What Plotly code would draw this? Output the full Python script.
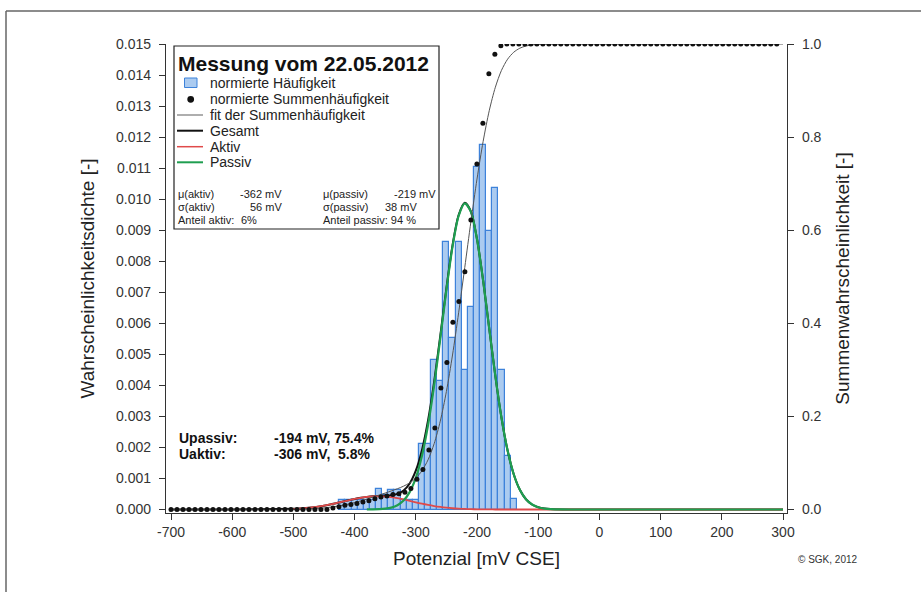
import plotly.graph_objects as go

# ---------------- data ----------------
hist_center = [-420, -410, -400, -390, -380, -370, -360, -350, -340, -330, -320, -310, -300,
               -290, -280, -270, -260, -250, -240, -230, -220, -210, -200, -190, -180, -170,
               -160, -150, -140]
hist_value = [0.00032, 0.00032, 0.00032, 0.00032, 0.00032, 0.00032, 0.00067, 0.00048, 0.00064,
              0.00064, 0.00032, 0.00032, 0.00032, 0.0021, 0.0021, 0.00483, 0.00413, 0.00862,
              0.00553, 0.00862, 0.00451, 0.00654, 0.01105, 0.01175, 0.00896, 0.01035, 0.00451,
              0.00172, 0.00034]

cum_x = [-700.0, -690.2, -680.4, -670.6, -660.8, -651.0, -641.2, -631.4, -621.6, -611.8,
         -602.0, -592.2, -582.4, -572.6, -562.8, -553.0, -543.2, -533.4, -523.6, -513.8,
         -504.0, -494.2, -484.4, -474.6, -464.8, -455.0, -445.2, -435.4, -425.6, -415.8,
         -406.0, -396.2, -386.4, -376.6, -366.8, -357.0, -347.2, -337.4, -327.6, -317.8,
         -308.0, -298.2, -288.4, -278.6, -268.8, -259.0, -249.2, -239.4, -229.6, -219.8,
         -210.0, -200.2, -190.4, -180.6, -170.8, -161.0, -151.2, -141.4, -131.6, -121.8,
         -112.0, -102.2, -92.4, -82.6, -72.8, -63.0, -53.2, -43.4, -33.6, -23.8,
         -14.0, -4.2, 5.6, 15.4, 25.2, 35.0, 44.8, 54.6, 64.4, 74.2,
         84.0, 93.8, 103.6, 113.4, 123.2, 133.0, 142.8, 152.6, 162.4, 172.2,
         182.0, 191.8, 201.6, 211.4, 221.2, 231.0, 240.8, 250.6, 260.4, 270.2,
         280.0, 289.8]
cum_value = [0.0, 0.0, 0.0, 0.0, 0.0, 0.0, 0.0, 0.0, 0.0, 0.0,
             0.0, 0.0, 0.0, 0.0, 0.0, 0.0, 0.0, 0.0, 0.0, 0.0,
             0.0, 0.0, 0.0, 0.0, 0.0, 0.0, 0.0, 0.003, 0.006, 0.009,
             0.011, 0.013, 0.016, 0.019, 0.023, 0.027, 0.029, 0.032, 0.034, 0.037,
             0.045, 0.065, 0.086, 0.128, 0.175, 0.261, 0.316, 0.402, 0.447, 0.511,
             0.622, 0.742, 0.830, 0.936, 0.978, 0.996, 1.0, 1.0, 1.0, 1.0,
             1.0, 1.0, 1.0, 1.0, 1.0, 1.0, 1.0, 1.0, 1.0, 1.0,
             1.0, 1.0, 1.0, 1.0, 1.0, 1.0, 1.0, 1.0, 1.0, 1.0,
             1.0, 1.0, 1.0, 1.0, 1.0, 1.0, 1.0, 1.0, 1.0, 1.0,
             1.0, 1.0, 1.0, 1.0, 1.0, 1.0, 1.0, 1.0, 1.0, 1.0,
             1.0, 1.0]

curve_x = [-700, -600, -500, -490, -480, -470, -460, -450, -440, -430, -420, -410, -400,
           -390, -380, -370, -360, -350, -340, -330, -320, -310, -300, -290, -280, -270,
           -260, -250, -240, -230, -220, -210, -200, -190, -180, -170, -160, -150, -140,
           -130, -120, -110, -100, -90, -80, -60, -40, 0, 100, 200, 300]
aktiv = [0.0, 0.0, 0.0000205, 0.0000314, 0.0000464, 0.0000665, 0.0000925, 0.000124, 0.000162,
         0.000204, 0.000250, 0.000296, 0.000340, 0.000377, 0.000406, 0.000423, 0.000427,
         0.000418, 0.000396, 0.000363, 0.000323, 0.000278, 0.000232, 0.000187, 0.000146,
         0.000111, 0.0000814, 0.0000578, 0.0000398, 0.0000266, 0.0000172, 0.0000107,
         0.0000065, 0.0000038, 0.0000021, 0.0, 0.0, 0.0, 0.0, 0.0, 0.0, 0.0, 0.0, 0.0, 0.0,
         0.0, 0.0, 0.0, 0.0, 0.0, 0.0]
passiv = [0.0, 0.0, 0.0, 0.0, 0.0, 0.0, 0.0, 0.0, 0.0, 0.0, 0.0, 0.0, 0.0, 0.0,
          0.0000013, 0.0000037, 0.0000101, 0.0000259, 0.0000621, 0.000139, 0.000289,
          0.000561, 0.001018, 0.001722, 0.002721, 0.004010, 0.005514, 0.007075, 0.008472,
          0.009464, 0.009866, 0.009596, 0.008709, 0.007376, 0.005829, 0.004298, 0.002957,
          0.001899, 0.001137, 0.000636, 0.000331, 0.000161, 0.0000732, 0.000031, 0.0000122,
          0.0000015, 0.0, 0.0, 0.0, 0.0, 0.0]
gesamt = [0.0, 0.0, 0.0000205, 0.0000314, 0.0000464, 0.0000665, 0.0000925, 0.000124, 0.000162,
          0.000204, 0.000250, 0.000296, 0.000340, 0.000377, 0.000407, 0.000427, 0.000437,
          0.000444, 0.000458, 0.000502, 0.000612, 0.000839, 0.001250, 0.001909, 0.002867,
          0.004121, 0.005595, 0.007133, 0.008512, 0.009491, 0.009883, 0.009607, 0.008716,
          0.007380, 0.005831, 0.004298, 0.002957, 0.001899, 0.001137, 0.000636, 0.000331,
          0.000161, 0.0000732, 0.000031, 0.0000122, 0.0000015, 0.0, 0.0, 0.0, 0.0, 0.0]
fit_cum = [0.0, 0.0, 0.00041, 0.00067, 0.00105, 0.00161, 0.00240, 0.00348, 0.00491, 0.00674,
           0.00901, 0.01174, 0.01492, 0.0185, 0.02246, 0.02662, 0.03095, 0.03536, 0.03985,
           0.04461, 0.05010, 0.05722, 0.06746, 0.0831, 0.1067, 0.1414, 0.1898, 0.2535,
           0.3319, 0.4226, 0.5199, 0.6179, 0.7099, 0.7906, 0.8567, 0.9072, 0.9434, 0.9674,
           0.9823, 0.9910, 0.9957, 0.9981, 0.9992, 0.9997, 0.9999, 1.0, 1.0, 1.0, 1.0, 1.0, 1.0]

x_ticks = [-700, -600, -500, -400, -300, -200, -100, 0, 100, 200, 300]
x_tick_labels = ["-700", "-600", "-500", "-400", "-300", "-200", "-100", "0", "100", "200",
                 "300"]
y_ticks = [0.000, 0.001, 0.002, 0.003, 0.004, 0.005, 0.006, 0.007, 0.008, 0.009, 0.010,
           0.011, 0.012, 0.013, 0.014, 0.015]
y2_ticks = [0.0, 0.2, 0.4, 0.6, 0.8, 1.0]

# ---------------- styles ----------------
FONT = "Liberation Sans, Arial, sans-serif"
BAR_FILL = "#abcbf0"
BAR_LINE = "#3d82da"
RED = "#e04a4a"
GREEN = "#1f9e50"
BLACK = "#111111"
FITC = "#555555"
AX = "#333333"

W, H = 921, 592
L, R, T, B = 166, 787, 44, 513


def fx(p):
    return (p - L) / (R - L)


def fy(p):
    return (B - p) / (B - T)


fig = go.Figure()

fig.add_trace(go.Bar(x=hist_center, y=hist_value, width=10,
                     marker=dict(color=BAR_FILL, line=dict(color=BAR_LINE, width=1.2)),
                     name="normierte Häufigkeit", showlegend=False))

fig.add_trace(go.Scatter(x=curve_x, y=gesamt, mode="lines",
                         line=dict(color=BLACK, width=2, shape="spline", smoothing=0.8),
                         name="Gesamt", showlegend=False))

red_idx = [i for i, v in enumerate(curve_x) if v >= -500]
fig.add_trace(go.Scatter(x=[curve_x[i] for i in red_idx], y=[aktiv[i] for i in red_idx],
                         mode="lines",
                         line=dict(color=RED, width=1.8, shape="spline", smoothing=0.8),
                         name="Aktiv", showlegend=False))

green_idx = [i for i, v in enumerate(curve_x) if v >= -380]
fig.add_trace(go.Scatter(x=[curve_x[i] for i in green_idx], y=[passiv[i] for i in green_idx],
                         mode="lines",
                         line=dict(color=GREEN, width=2.2, shape="spline", smoothing=0.8),
                         name="Passiv", showlegend=False))

fig.add_trace(go.Scatter(x=curve_x, y=fit_cum, mode="lines", yaxis="y2",
                         line=dict(color=FITC, width=1, shape="spline", smoothing=0.8),
                         name="fit der Summenhäufigkeit", showlegend=False))

fig.add_trace(go.Scatter(x=cum_x, y=cum_value, mode="markers", yaxis="y2",
                         marker=dict(color=BLACK, size=5),
                         name="normierte Summenhäufigkeit", showlegend=False))

shapes = []
annotations = []

# outer frame
shapes.append(dict(type="line", xref="paper", yref="paper", x0=fx(6), x1=fx(925),
                   y0=fy(11), y1=fy(11), line=dict(color="#666666", width=1.5)))
shapes.append(dict(type="line", xref="paper", yref="paper", x0=fx(6), x1=fx(6),
                   y0=fy(11), y1=fy(600), line=dict(color="#666666", width=1.5)))

# legend box
shapes.append(dict(type="rect", xref="paper", yref="paper", x0=fx(174), x1=fx(439),
                   y0=fy(229), y1=fy(46), line=dict(color="#222222", width=1.2),
                   fillcolor="rgba(255,255,255,0)"))
annotations.append(dict(xref="paper", yref="paper", x=fx(176), y=fy(63), xanchor="left",
                        yanchor="middle", showarrow=False,
                        text="<b>Messung vom 22.05.2012</b>",
                        font=dict(family=FONT, size=21, color="#111111")))

rows = [("normierte Häufigkeit", 82.7), ("normierte Summenhäufigkeit", 99.3),
        ("fit der Summenhäufigkeit", 115.0), ("Gesamt", 130.7), ("Aktiv", 146.7),
        ("Passiv", 162.3)]
for txt, yy in rows:
    annotations.append(dict(xref="paper", yref="paper", x=fx(208), y=fy(yy), xanchor="left",
                            yanchor="middle", showarrow=False, text=txt,
                            font=dict(family=FONT, size=14, color="#222222")))

shapes.append(dict(type="rect", xref="paper", yref="paper", x0=fx(184.5), x1=fx(197),
                   y0=fy(87.5), y1=fy(78), fillcolor=BAR_FILL,
                   line=dict(color=BAR_LINE, width=1)))
shapes.append(dict(type="circle", xref="paper", yref="paper", x0=fx(187.3), x1=fx(194.1),
                   y0=fy(102.7), y1=fy(95.9), fillcolor=BLACK, line=dict(color=BLACK, width=0)))
for yy, col, wd in [(115.0, "#777777", 1.2), (130.7, BLACK, 2), (146.7, RED, 1.5),
                    (162.3, GREEN, 2)]:
    shapes.append(dict(type="line", xref="paper", yref="paper", x0=fx(177), x1=fx(203),
                       y0=fy(yy), y1=fy(yy), line=dict(color=col, width=wd)))

params = [
    ("μ(aktiv)", 176, 194.3, "left"), ("-362 mV", 284, 194.3, "right"),
    ("μ(passiv)", 321, 194.3, "left"), ("-219 mV", 438, 194.3, "right"),
    ("σ(aktiv)", 176, 207.0, "left"), ("56 mV", 284, 207.0, "right"),
    ("σ(passiv)", 321, 207.0, "left"), ("38 mV", 419, 207.0, "right"),
    ("Anteil aktiv:", 176, 220.0, "left"), ("6%", 239, 220.0, "left"),
    ("Anteil passiv: 94 %", 321, 220.0, "left"),
]
for txt, xx, yy, anc in params:
    annotations.append(dict(xref="paper", yref="paper", x=fx(xx), y=fy(yy), xanchor=anc,
                            yanchor="middle", showarrow=False, text=txt,
                            font=dict(family=FONT, size=11, color="#222222")))

for txt, xx, yy in [("<b>Upassiv:</b>", 177, 438.5), ("<b>-194 mV, 75.4%</b>", 272, 438.5),
                    ("<b>Uaktiv:</b>", 177, 454.0), ("<b>-306 mV,  5.8%</b>", 272, 454.0)]:
    annotations.append(dict(xref="paper", yref="paper", x=fx(xx), y=fy(yy), xanchor="left",
                            yanchor="middle", showarrow=False, text=txt,
                            font=dict(family=FONT, size=14, color="#111111")))

annotations.append(dict(xref="paper", yref="paper", x=fx(796), y=fy(559), xanchor="left",
                        yanchor="middle", showarrow=False, text="© SGK, 2012",
                        font=dict(family=FONT, size=10, color="#333333")))

ymin = -(B - 509.5) / (509.5 - T) * 0.015
y2min = -(B - 509.5) / (509.5 - T) * 1.0
xl = -700 - (171 - L) / 0.612
xr = 300 + (R - 783) / 0.612

fig.update_layout(
    width=W, height=H,
    margin=dict(l=L, r=W - R, t=T, b=H - B),
    paper_bgcolor="white", plot_bgcolor="white",
    font=dict(family=FONT, size=14, color=AX),
    showlegend=False, bargap=0,
    shapes=shapes, annotations=annotations,
    xaxis=dict(range=[xl, xr], tickvals=x_ticks, ticktext=x_tick_labels, ticks="outside",
               ticklen=6, tickcolor=AX, showline=True, linecolor=AX, linewidth=1.2,
               showgrid=False, zeroline=False, tickfont=dict(family=FONT, size=14, color=AX),
               title=dict(text="Potenzial [mV CSE]", standoff=12,
                          font=dict(family=FONT, size=19, color="#222222"))),
    yaxis=dict(range=[ymin, 0.015], tickvals=y_ticks, tickformat=".3f", ticks="outside",
               ticklen=6, tickcolor=AX, showline=True, linecolor=AX, linewidth=1.2,
               showgrid=False, zeroline=False, ticklabelstandoff=5,
               tickfont=dict(family=FONT, size=14, color=AX),
               title=dict(text="Wahrscheinlichkeitsdichte [-]", standoff=16,
                          font=dict(family=FONT, size=19, color="#222222"))),
    yaxis2=dict(range=[y2min, 1.0], tickvals=y2_ticks, tickformat=".1f", overlaying="y",
                side="right", ticks="outside", ticklen=6, tickcolor=AX, showline=True,
                linecolor=AX, linewidth=1.2, showgrid=False, zeroline=False,
                ticklabelstandoff=5,
                tickfont=dict(family=FONT, size=14, color=AX),
                title=dict(text="Summenwahrscheinlichkeit [-]", standoff=15,
                           font=dict(family=FONT, size=19, color="#222222"))),
)

fig.write_html("out.html", config={"displayModeBar": False},
               post_script="document.body.style.margin='0';document.body.style.padding='0';")
